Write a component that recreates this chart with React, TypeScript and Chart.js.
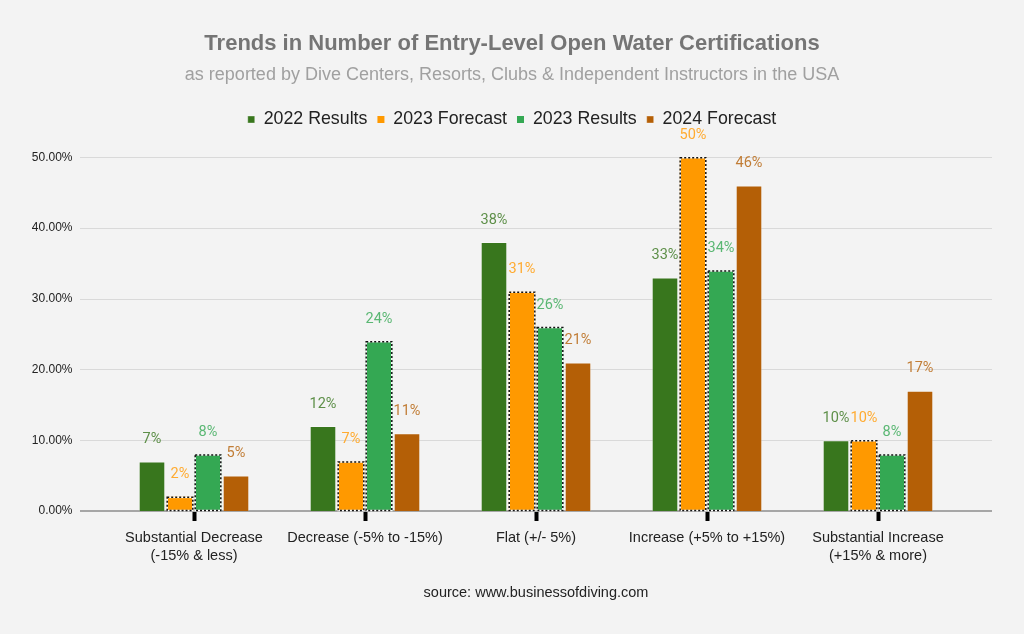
import React, { useEffect, useRef } from 'react';
import { Chart, registerables } from 'chart.js';

Chart.register(...registerables);

const categories: (string | string[])[] = [
  ['Substantial Decrease', '(-15% & less)'],
  'Decrease (-5% to -15%)',
  'Flat (+/- 5%)',
  'Increase (+5% to +15%)',
  ['Substantial Increase', '(+15% & more)'],
];
const seriesNames = ['2022 Results', '2023 Forecast', '2023 Results', '2024 Forecast'];
const results2022 = [7, 12, 38, 33, 10];
const forecast2023 = [2, 7, 31, 50, 10];
const results2023 = [8, 24, 26, 34, 8];
const forecast2024 = [5, 11, 21, 46, 17];
const yTickValues = [0, 10, 20, 30, 40, 50];
const titleText = 'Trends in Number of Entry-Level Open Water Certifications';
const subtitleText = 'as reported by Dive Centers, Resorts, Clubs & Independent Instructors in the USA';
const sourceText = 'source: www.businessofdiving.com';

const barColors = ['#38761d', '#ff9900', '#34a853', '#b45f06'];
const labelColors = ['#5d8f48', '#ffab31', '#5ab773', '#c17d36'];
const dottedSeries = [1, 2];

const SANS = '"Liberation Sans", Arial, sans-serif';

const bgPlugin = {
  id: 'bg',
  beforeDraw(chart: any) {
    const ctx = chart.ctx;
    ctx.save();
    ctx.fillStyle = '#f3f3f3';
    ctx.fillRect(0, 0, chart.width, chart.height);
    ctx.restore();
  },
};

const gridPlugin = {
  id: 'extGrid',
  beforeDatasetsDraw(chart: any) {
    const ctx = chart.ctx;
    const y = chart.scales.y;
    ctx.save();
    y.ticks.forEach((t: any) => {
      const py = Math.round(y.getPixelForValue(t.value));
      if (t.value === 0) return;
      ctx.strokeStyle = '#d9d9d9';
      ctx.lineWidth = 1;
      ctx.beginPath();
      ctx.moveTo(80, py + 0.5);
      ctx.lineTo(992, py + 0.5);
      ctx.stroke();
    });
    const p0 = y.getPixelForValue(0);
    ctx.strokeStyle = '#a6a6a6';
    ctx.lineWidth = 2;
    ctx.beginPath();
    ctx.moveTo(80, p0);
    ctx.lineTo(992, p0);
    ctx.stroke();
    ctx.restore();
  },
};

const decoPlugin = {
  id: 'deco',
  afterDatasetsDraw(chart: any) {
    const ctx = chart.ctx;
    ctx.save();
    dottedSeries.forEach((di) => {
      const meta = chart.getDatasetMeta(di);
      meta.data.forEach((bar: any) => {
        const left = bar.x - bar.width / 2;
        const top = Math.min(bar.y, bar.base);
        const h = Math.abs(bar.base - bar.y);
        ctx.setLineDash([]);
        ctx.strokeStyle = '#ffffff';
        ctx.lineWidth = 1.5;
        ctx.strokeRect(left + 0.5, top + 0.5, bar.width - 1, h - 1);
        ctx.setLineDash([2, 2]);
        ctx.strokeStyle = '#111111';
        ctx.strokeRect(left + 0.5, top + 0.5, bar.width - 1, h - 1);
      });
    });
    ctx.setLineDash([]);
    ctx.font = '14.5px Roboto, sans-serif';
    ctx.textAlign = 'center';
    ctx.textBaseline = 'middle';
    chart.data.datasets.forEach((ds: any, di: number) => {
      const meta = chart.getDatasetMeta(di);
      meta.data.forEach((bar: any, i: number) => {
        ctx.fillStyle = labelColors[di];
        ctx.fillText(ds.data[i] + '%', bar.x, bar.y - 22);
      });
    });
    ctx.font = '14.5px ' + SANS;
    ctx.fillStyle = '#222222';
    ctx.fillText(sourceText, 536, 593);
    ctx.restore();
  },
};

export default function App() {
  const ref = useRef<HTMLCanvasElement>(null);
  useEffect(() => {
    document.body.style.margin = '0';
    const seriesData = [results2022, forecast2023, results2023, forecast2024];
    const chart = new Chart(ref.current as HTMLCanvasElement, {
      type: 'bar',
      data: {
        labels: categories as any,
        datasets: seriesNames.map((name, i) => ({
          label: name,
          data: seriesData[i],
          backgroundColor: barColors[i],
          borderColor: dottedSeries.includes(i) ? barColors[i] : 'rgba(255,255,255,0.35)',
          borderWidth: dottedSeries.includes(i) ? 0 : 1,
          categoryPercentage: 0.655,
          barPercentage: 0.95,
        })),
      },
      options: {
        responsive: false,
        devicePixelRatio: 1,
        animation: false,
        layout: { padding: { left: 20, right: 20, top: 0, bottom: 0 } },
        plugins: {
          title: {
            display: true,
            text: titleText,
            color: '#757575',
            font: { family: SANS, size: 22, weight: 'bold' },
            padding: { top: 31, bottom: 7 },
          },
          subtitle: {
            display: true,
            text: subtitleText,
            color: '#a0a0a0',
            font: { family: SANS, size: 18 },
            padding: { top: 0, bottom: 14.6 },
          },
          legend: {
            display: true,
            labels: {
              color: '#222222',
              font: { family: SANS, size: 17.8 },
              boxWidth: 7,
              boxHeight: 7,
              padding: 10,
            },
          },
          tooltip: { enabled: false },
        },
        scales: {
          x: {
            type: 'category',
            position: 'bottom',
            grid: {
              offset: false,
              drawOnChartArea: false,
              drawTicks: true,
              tickLength: 10,
              tickWidth: 4,
              tickColor: '#000000',
              color: '#000000',
            },
            border: { display: false },
            ticks: {
              color: '#222222',
              font: { family: SANS, size: 14.5, lineHeight: 1.24 },
              padding: 8,
              maxRotation: 0,
              autoSkip: false,
            },
            afterFit(s: any) {
              s.height = 123;
            },
          },
          xTopSpacer: {
            type: 'category',
            position: 'top',
            display: true,
            grid: { display: false, drawTicks: false },
            border: { display: false },
            ticks: { display: false },
            afterFit(s: any) {
              s.height = 18.8;
            },
          },
          y: {
            min: 0,
            max: 50,
            afterBuildTicks(s: any) {
              s.ticks = yTickValues.map((v) => ({ value: v }));
            },
            grid: { display: false, drawTicks: false },
            border: { display: false },
            ticks: {
              color: '#222222',
              font: { family: SANS, size: 12 },
              padding: 36,
              callback: (v: any) => Number(v).toFixed(2) + '%',
            },
            afterFit(s: any) {
              s.width = 88.5;
            },
          },
          yRightSpacer: {
            type: 'linear',
            position: 'right',
            display: true,
            grid: { display: false, drawTicks: false },
            border: { display: false },
            ticks: { display: false },
            afterFit(s: any) {
              s.width = 40.5;
            },
          },
        },
      } as any,
      plugins: [bgPlugin, gridPlugin, decoPlugin],
    });
    return () => chart.destroy();
  }, []);
  return (
    <div style={{ width: 1024, height: 634 }}>
      <canvas ref={ref} width={1024} height={634} style={{ display: 'block' }} />
    </div>
  );
}
